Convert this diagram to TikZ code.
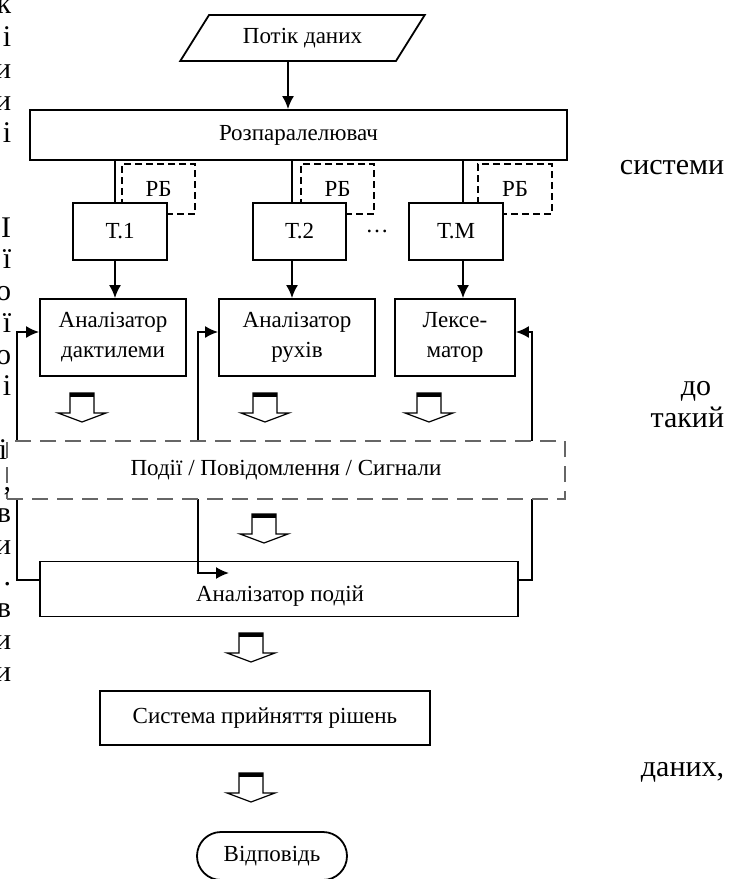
\documentclass[tikz,border=0pt]{standalone}
\usepackage{fontspec}
\setmainfont{Liberation Serif}
\usetikzlibrary{shapes.geometric,arrows.meta}

\tikzset{
  box/.style={draw, fill=white, inner sep=0pt, align=center},
  rbbox/.style={draw, dash pattern=on 3.5pt off 2pt, inner sep=0pt},
  evbox/.style={draw=black!60, dash pattern=on 8pt off 4.5pt, fill=white, inner sep=0pt},
  pagetext/.style={font=\fontsize{15}{17}\selectfont, inner sep=0pt, anchor=base east},
  flowarr/.pic={
    \draw[line width=0.6pt, fill=white] (-12,0) -- (-12,20) -- (-24,20) -- (0,29)
      -- (24,20) -- (12,20) -- (12,0) -- cycle;
    \fill (-12,0) rectangle (12,4);
  }
}

\begin{document}
\begin{tikzpicture}[>={Latex[length=6.5pt,width=6pt]}, line width=0.9pt, x=0.5pt, y=-0.5pt,
  font=\fontsize{11.5}{15}\selectfont]
  \useasboundingbox (0,0) rectangle (729,879);

  % input and splitter
  \node[box, trapezium, trapezium left angle=47, trapezium right angle=133,
    trapezium stretches=true, minimum width=122.5pt, minimum height=23pt] (data) at (302.5,38) {Потік даних};
  \node[box, minimum width=268.5pt, minimum height=25pt] (rozp) at (298.5,135) {Розпаралелювач};
  \coordinate (ca) at (288,0);
  \draw[->] (data.south -| ca) -- (rozp.north -| ca);

  % threads
  \coordinate (c1) at (115,0);
  \coordinate (c2) at (292,0);
  \coordinate (c3) at (463,0);
  \node[rbbox, minimum width=36.5pt, minimum height=25pt] (rb1) at (158.5,189) {РБ};
  \node[rbbox, minimum width=36.5pt, minimum height=25pt] (rb2) at (337.5,189) {РБ};
  \node[rbbox, minimum width=37pt, minimum height=25pt] (rb3) at (515,189) {РБ};
  \node[box, minimum width=47pt, minimum height=28.5pt] (t1) at (120,231.5) {Т.1};
  \node[box, minimum width=46.5pt, minimum height=28.5pt] (t2) at (299.5,231.5) {Т.2};
  \node[box, minimum width=47pt, minimum height=28.5pt] (tm) at (456,231.5) {Т.М};
  \node (dots) at (377,231) {…};
  \draw (rozp.south -| c1) -- (t1.north -| c1);
  \draw (rozp.south -| c2) -- (t2.north -| c2);
  \draw (rozp.south -| c3) -- (tm.north -| c3);

  % analysers
  \node[box, minimum width=73pt, minimum height=38.5pt] (an1) at (113,337.5) {Аналізатор\\дактилеми};
  \node[box, minimum width=78pt, minimum height=38.5pt] (an2) at (297,337.5) {Аналізатор\\рухів};
  \node[box, minimum width=60pt, minimum height=38.5pt] (an3) at (455,337.5) {Лексе-\\матор};
  \draw[->] (t1.south -| c1) -- (an1.north -| c1);
  \draw[->] (t2.south -| c2) -- (an2.north -| c2);
  \draw[->] (tm.south -| c3) -- (an3.north -| c3);

  \node[box, minimum width=239pt, minimum height=27.5pt] (ap) at (279,589) {};
  \node (apl) at (280,596) {Аналізатор подій};
  \node[box, minimum width=165pt, minimum height=27pt] (sys) at (265,718) {Система прийняття рішень};
  \node[box, rounded corners=12pt, minimum width=75pt, minimum height=24pt] (ans) at (272,856) {Відповідь};

  % feedback
  \coordinate (fl) at (17,0);
  \coordinate (fm) at (198,0);
  \coordinate (fr) at (532,0);
  \coordinate (ya) at (0,332);
  \coordinate (yb) at (0,580);
  \coordinate (yc) at (0,573);
  \coordinate (apin) at (229,573);
  \draw[->] (ap.west |- yb) -- (fl |- yb) -- (fl |- ya) -- (an1.west |- ya);
  \draw[<->] (an2.west |- ya) -- (fm |- ya) -- (fm |- yc) -- (apin);
  \draw[->] (ap.east |- yb) -- (fr |- yb) -- (fr |- ya) -- (an3.east |- ya);

  \node[evbox, minimum width=279pt, minimum height=29pt] (ev) at (286,470) {Події / Повідомлення / Сигнали};

  \pic at (82,393) {flowarr};
  \pic at (265,393) {flowarr};
  \pic at (429,393) {flowarr};
  \pic at (264,514) {flowarr};
  \pic at (251,633) {flowarr};
  \pic at (251,773) {flowarr};

  % page text around the figure
  \node[pagetext] (l1) at (12,13) {к};
  \node[pagetext] (l2) at (12,46) {і};
  \node[pagetext] (l3) at (12,78) {и};
  \node[pagetext] (l4) at (12,110) {и};
  \node[pagetext] (l5) at (12,142) {і};
  \node[pagetext] (l6) at (12,237) {І};
  \node[pagetext] (l7) at (12,268) {ї};
  \node[pagetext] (l8) at (12,300) {о};
  \node[pagetext] (l9) at (12,332) {ї};
  \node[pagetext] (l10) at (12,364) {о};
  \node[pagetext] (l11) at (12,395) {і};
  \node[pagetext] (l12) at (8,459) {і};
  \node[pagetext] (l13) at (12,490) {,};
  \node[pagetext] (l14) at (12,522) {в};
  \node[pagetext] (l15) at (12,554) {и};
  \node[pagetext] (l16) at (12,585) {.};
  \node[pagetext] (l17) at (12,617) {в};
  \node[pagetext] (l18) at (12,649) {и};
  \node[pagetext] (l19) at (12,681) {и};
  \node[pagetext] (r1) at (725,174) {системи};
  \node[pagetext] (r2) at (712,395) {до};
  \node[pagetext] (r3) at (725,427) {такий};
  \node[pagetext] (r4) at (725,776) {даних,};
\end{tikzpicture}
\end{document}
